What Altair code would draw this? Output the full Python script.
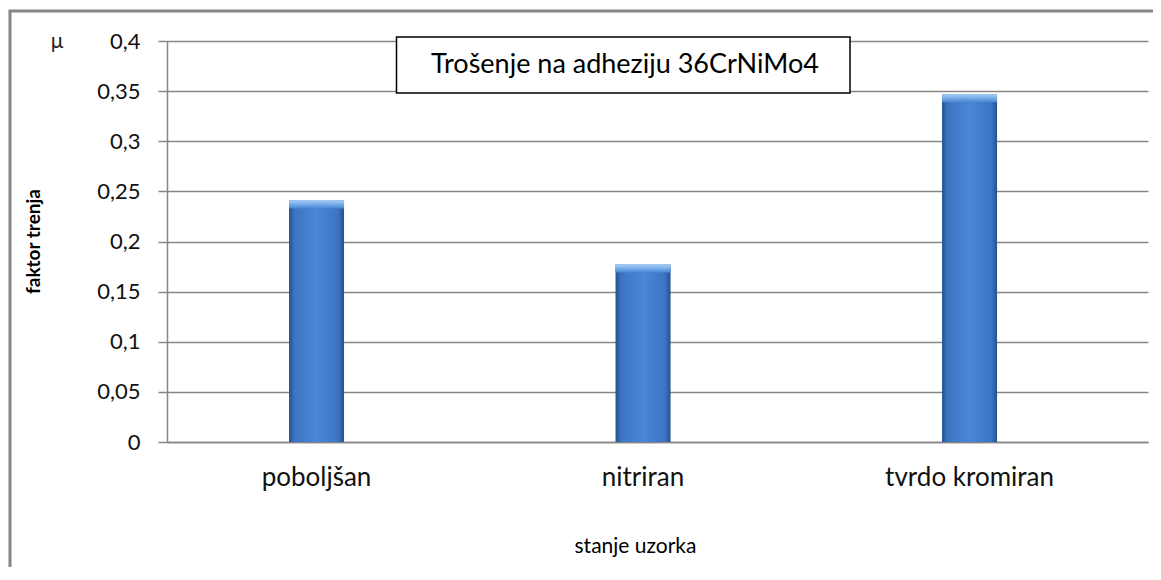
import altair as alt
import pandas as pd

categories = ["poboljšan", "nitriran", "tvrdo kromiran"]
values = [0.241, 0.177, 0.347]
y_ticks = [0, 0.05, 0.1, 0.15, 0.2, 0.25, 0.3, 0.35, 0.4]
title_text = "Trošenje na adheziju 36CrNiMo4"
x_title = "stanje uzorka"
y_title = "faktor trenja"
unit_text = "μ"

df = pd.DataFrame({"stanje": categories, "faktor": values})

W, H = 981, 401
FONT = "Lato"
GRAY = "#868686"

x_enc = alt.X(
    "stanje:N",
    sort=categories,
    scale=alt.Scale(paddingInner=0.8315, paddingOuter=0.418, align=0.447),
    axis=alt.Axis(
        title=x_title,
        labelAngle=0,
        labelFont=FONT,
        labelFontSize=26,
        labelColor="#111111",
        labelPadding=22,
        ticks=False,
        domainColor=GRAY,
        domainWidth=1.5,
        titleFont=FONT,
        titleFontSize=21,
        titleFontWeight="normal",
        titleColor="#000000",
        titleX=468,
        titleY=104,
        titleBaseline="middle",
        titleAlign="center",
    ),
)

y_enc = alt.Y(
    "faktor:Q",
    scale=alt.Scale(domain=[0, 0.4], nice=False),
    axis=alt.Axis(
        values=y_ticks,
        labelExpr="replace(toString(datum.value), '.', ',')",
        labelFont=FONT,
        labelFontSize=22,
        labelColor="#111111",
        labelPadding=18,
        tickSize=9,
        tickColor=GRAY,
        tickWidth=1.5,
        domainColor=GRAY,
        domainWidth=1.5,
        grid=True,
        gridColor=GRAY,
        gridWidth=1.5,
        title=y_title,
        titleFont=FONT,
        titleFontSize=19,
        titleFontWeight="bold",
        titleColor="#000000",
        titleX=-134,
        titleY=200,
        titleAngle=-90,
        titleBaseline="middle",
        titleAlign="center",
    ),
)

bar_grad = alt.Gradient(
    gradient="linear",
    x1=0, x2=1, y1=0, y2=0,
    stops=[
        alt.GradientStop(offset=0, color="#24518f"),
        alt.GradientStop(offset=0.1, color="#3c74c2"),
        alt.GradientStop(offset=0.5, color="#4a86d6"),
        alt.GradientStop(offset=0.9, color="#3c74c2"),
        alt.GradientStop(offset=1, color="#24518f"),
    ],
)

bevel_grad = alt.Gradient(
    gradient="linear",
    x1=0, x2=0, y1=0, y2=1,
    stops=[
        alt.GradientStop(offset=0, color="#a4cff8"),
        alt.GradientStop(offset=1, color="#4a86d6"),
    ],
)

base = alt.Chart(df)

bars = base.mark_bar(color=bar_grad).encode(x=x_enc, y=y_enc)

bevel = (
    base.transform_calculate(bev="datum.faktor - 0.008")
    .mark_bar(color=bevel_grad)
    .encode(
        x=alt.X("stanje:N", sort=categories),
        y="faktor:Q",
        y2="bev:Q",
    )
)

one = alt.Chart(pd.DataFrame({"t": [title_text], "u": [unit_text]}))

title_box = one.mark_rect(fill="white", stroke="#000000", strokeWidth=1.5).encode(
    x=alt.value(229.5), x2=alt.value(683), y=alt.value(-4), y2=alt.value(52)
)
title_txt = one.mark_text(
    font=FONT, fontSize=27, color="#000000", align="center", baseline="middle"
).encode(text="t:N", x=alt.value(458), y=alt.value(24))

unit = one.mark_text(
    font=FONT, fontSize=21, color="#222222", align="center", baseline="middle"
).encode(text="u:N", x=alt.value(-110), y=alt.value(1))

frame_left = one.mark_rule(color=GRAY, strokeWidth=3).encode(
    x=alt.value(-157), y=alt.value(-30), y2=alt.value(H + 200)
)
frame_top = one.mark_rule(color=GRAY, strokeWidth=3).encode(
    x=alt.value(-158.5), x2=alt.value(W + 60), y=alt.value(-30)
)

chart = (
    alt.layer(bars, bevel, title_box, title_txt, unit, frame_left, frame_top)
    .properties(
        width=W,
        height=H,
        autosize=alt.AutoSizeParams(type="none"),
        padding={"left": 159, "top": 33, "right": 5, "bottom": 125},
    )
    .configure_view(stroke=None)
)

chart.save("out.html", embed_options={"renderer": "svg", "actions": False})
